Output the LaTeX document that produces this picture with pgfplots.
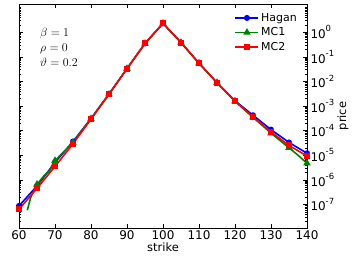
\documentclass[border=0pt]{standalone}
\usepackage{fontspec}
\setmainfont{DejaVu Sans}
\usepackage{pgfplots}
\pgfplotsset{compat=1.18}
\pgfplotsset{mconelegend/.style={legend image code/.code={\draw[##1,mark indices={2}] plot coordinates {(0bp,0bp)(11.5bp,0bp)(23bp,0bp)};}}}
\newcommand{\E}[1]{10\raisebox{0.55em}{\fontsize{8.5}{9}\selectfont #1}}
\begin{document}
\begin{tikzpicture}
\path[use as bounding box] (-19bp,-36bp) rectangle (334bp,228bp);
\begin{axis}[
  at={(0,0)}, anchor=south west,
  scale only axis, width=288bp, height=224bp,
  xmin=60, xmax=140, ymode=log, ymin=1.1e-8, ymax=14,
  xtick={60,70,...,140},
  ytick={1e-7,1e-6,1e-5,1e-4,1e-3,1e-2,1e-1,1},
  yticklabels={\E{-7},\E{-6},\E{-5},\E{-4},\E{-3},\E{-2},\E{-1},\E{0}},
  minor ytick={2e-8,3e-8,4e-8,5e-8,6e-8,7e-8,8e-8,9e-8,
    2e-7,3e-7,4e-7,5e-7,6e-7,7e-7,8e-7,9e-7,
    2e-6,3e-6,4e-6,5e-6,6e-6,7e-6,8e-6,9e-6,
    2e-5,3e-5,4e-5,5e-5,6e-5,7e-5,8e-5,9e-5,
    2e-4,3e-4,4e-4,5e-4,6e-4,7e-4,8e-4,9e-4,
    2e-3,3e-3,4e-3,5e-3,6e-3,7e-3,8e-3,9e-3,
    2e-2,3e-2,4e-2,5e-2,6e-2,7e-2,8e-2,9e-2,
    2e-1,3e-1,4e-1,5e-1,6e-1,7e-1,8e-1,9e-1,
    2,3,4,5,6,7,8,9,10},
  yticklabel pos=right,
  /pgf/number format/assume math mode=true,
  tick label style={font=\fontsize{12}{14}\selectfont},
  xticklabel style={yshift=1bp},
  major tick length=4bp, minor tick length=2bp,
  tick style={black, line width=0.5pt},
  axis line style={line width=0.8pt},
  xlabel={strike}, ylabel={price},
  label style={font=\fontsize{11.5}{13}\selectfont},
  xlabel style={yshift=4bp},
  ylabel style={at={(rel axis cs:1.125,0.5)}, anchor=center},
  legend style={at={(rel axis cs:1,1)}, anchor=north east, draw=none, fill=none,
    font=\fontsize{11}{13}\selectfont, row sep=1bp, xshift=-5bp, yshift=-5bp},
  legend cell align=left,
  legend image code/.code={\draw[mark repeat=2,mark phase=2,#1] plot coordinates {(0bp,0bp)(11.5bp,0bp)(23bp,0bp)};},
]
\addplot[blue, line width=1.6pt, mark=*, mark size=2.2pt] coordinates {
(60,8.7e-8)(65,5.6e-7)(70,5.1e-6)(75,3.6e-5)(80,3.1e-4)(85,3.1e-3)(90,0.033)(95,0.35)(100,2.29)
(105,0.38)(110,0.055)(115,0.0089)(120,1.62e-3)(125,4.2e-4)(130,1.1e-4)(135,3.3e-5)(140,1.2e-5)};
\addlegendentry{Hagan}
\addplot[color={rgb,255:red,0;green,128;blue,0}, line width=1.6pt, mark=triangle*, mark size=2.8pt,
  mark indices={3,7,8,9,10,11,12,13,14,15,16,17,18,19,20,22}, mconelegend] coordinates {
(62.3,5.8e-8)(63.3,2.0e-7)(65,6.5e-7)(67,1.5e-6)(68.6,2.4e-6)(69.4,4.5e-6)(70,6.0e-6)(75,3.3e-5)
(80,3.0e-4)(85,3.0e-3)(90,0.033)(95,0.348)(100,2.29)(105,0.38)(110,0.055)(115,0.0089)
(120,1.58e-3)(125,3.5e-4)(130,7.9e-5)(135,2.0e-5)(137.5,1.0e-5)(140,4.7e-6)};
\addlegendentry{MC1}
\addplot[red, line width=1.6pt, mark=square*, mark size=2.2pt] coordinates {
(60,6.3e-8)(65,4.5e-7)(70,3.5e-6)(75,2.9e-5)(80,2.95e-4)(85,3.0e-3)(90,0.033)(95,0.348)(100,2.29)
(105,0.38)(110,0.055)(115,0.0089)(120,1.58e-3)(125,3.5e-4)(130,8.9e-5)(135,2.5e-5)(140,9.3e-6)};
\addlegendentry{MC2}
\node[anchor=base west, font=\fontsize{12.5}{14}\selectfont, inner sep=0pt] at (rel axis cs:0.073,0.857) {$\beta=1$};
\node[anchor=base west, font=\fontsize{12.5}{14}\selectfont, inner sep=0pt] at (rel axis cs:0.073,0.787) {$\rho=0$};
\node[anchor=base west, font=\fontsize{12.5}{14}\selectfont, inner sep=0pt] at (rel axis cs:0.073,0.72) {$\vartheta=0.2$};
\end{axis}
\end{tikzpicture}
\end{document}
